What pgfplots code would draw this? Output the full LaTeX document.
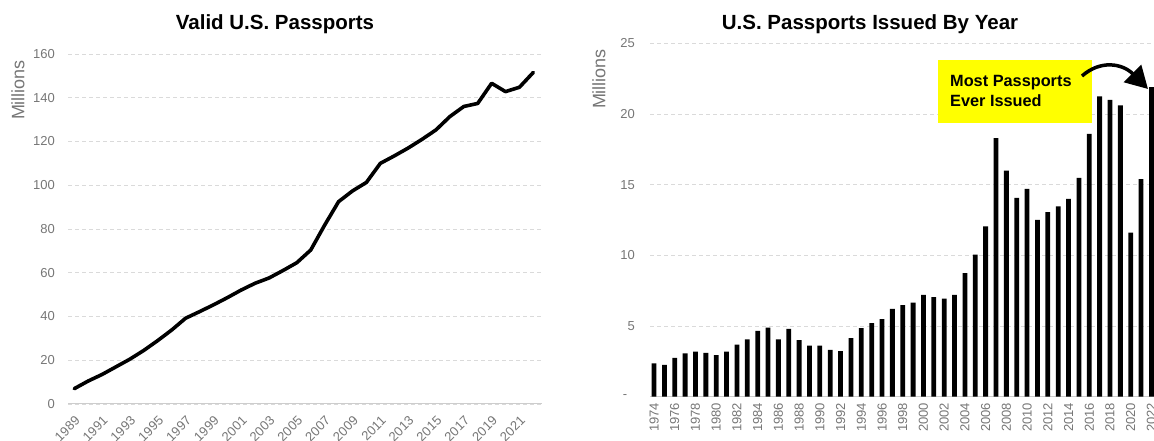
\documentclass[border=0pt]{standalone}
\usepackage{fontspec}
\setmainfont{Liberation Sans}
\usepackage{pgfplots}
\pgfplotsset{compat=1.18}
\usetikzlibrary{arrows.meta}
\definecolor{tickgray}{RGB}{118,118,118}
\definecolor{gridgray}{RGB}{218,218,218}
\definecolor{basegray}{RGB}{205,205,205}
\definecolor{annoyellow}{RGB}{255,255,0}
\pgfplotsset{
  mystyle/.style={
    scale only axis,
    axis x line=bottom, axis y line=left,
    x axis line style={basegray, line width=1pt, -},
    y axis line style={draw=none},
    major tick length=0pt,
    ymajorgrids,
    grid style={gridgray, dash pattern=on 4pt off 3pt, line width=0.9pt},
    tick label style={font=\fontsize{13}{13}\selectfont, text=tickgray},
    /pgf/number format/1000 sep={},
    /pgf/number format/assume math mode=true,
  }
}
\begin{document}
\begin{tikzpicture}[x=1pt,y=1pt]
\path[use as bounding box] (0pt,0pt) rectangle (1154pt,441pt);
\begin{axis}[mystyle,
  at={(68pt,37pt)}, anchor=south west,
  width=473.7pt, height=350pt,
  xmin=1988.55, xmax=2022.6, ymin=0, ymax=160,
  ytick={0,20,...,160},
  xtick={1989,1991,...,2021},
  xticklabel style={yshift=-11pt, xshift=0pt, rotate=45, anchor=north east, inner sep=0pt},
  yticklabel style={inner sep=0pt, xshift=-13pt},
]
\addplot[black, line width=3.6pt, line join=round, line cap=round] coordinates {
(1989,7) (1990,10.5) (1991,13.5) (1992,17) (1993,20.5) (1994,24.5) (1995,29)
(1996,33.8) (1997,39.2) (1998,42.2) (1999,45.3) (2000,48.6) (2001,52.1)
(2002,55.2) (2003,57.6) (2004,61) (2005,64.6) (2006,70.4) (2007,81.8)
(2008,92.5) (2009,97.4) (2010,101.3) (2011,110) (2012,113.4) (2013,117)
(2014,121) (2015,125.3) (2016,131.4) (2017,136) (2018,137.4) (2019,146.6)
(2020,142.8) (2021,144.8) (2022,151.6)
};
\end{axis}
\begin{axis}[mystyle,
  at={(650pt,44.3pt)}, anchor=south west,
  width=511.8pt, height=353.4pt,
  xmin=1973.61, xmax=2023, ymin=0, ymax=25,
  ytick={0,5,...,25},
  yticklabels={\makebox[12pt][l]{-},5,10,15,20,25},
  xtick={1974,1976,...,2022},
  xticklabel style={yshift=-6pt, rotate=90, anchor=east, inner sep=0pt},
  yticklabel style={inner sep=0pt, xshift=-15pt},
]
\addplot[ybar, bar width=4.8pt, fill=black, draw=none] coordinates {
(1974,2.35) (1975,2.26) (1976,2.75) (1977,3.06) (1978,3.18) (1979,3.1)
(1980,2.94) (1981,3.18) (1982,3.69) (1983,4.05) (1984,4.66) (1985,4.89)
(1986,4.05) (1987,4.8) (1988,4.0) (1989,3.62) (1990,3.62) (1991,3.32)
(1992,3.22) (1993,4.14) (1994,4.85) (1995,5.2) (1996,5.48) (1997,6.21)
(1998,6.47) (1999,6.66) (2000,7.2) (2001,7.04) (2002,6.94) (2003,7.2)
(2004,8.75) (2005,10.05) (2006,12.05) (2007,18.3) (2008,16.0) (2009,14.07)
(2010,14.7) (2011,12.5) (2012,13.06) (2013,13.46) (2014,14.0) (2015,15.48)
(2016,18.6) (2017,21.25) (2018,21.0) (2019,20.6) (2020,11.6) (2021,15.4)
(2022,21.9)
};
\end{axis}
% titles and labels
\node[anchor=base, font=\bfseries\fontsize{20.5}{24}\selectfont] at (275pt,411pt) {Valid U.S. Passports};
\node[anchor=base, font=\bfseries\fontsize{20.5}{24}\selectfont] at (870pt,411pt) {U.S. Passports Issued By Year};
\node[rotate=90, text=tickgray, font=\fontsize{18}{18}\selectfont] at (18pt,351pt) {Millions};
\node[rotate=90, text=tickgray, font=\fontsize{18}{18}\selectfont] at (599pt,362pt) {Millions};
% annotation
\fill[annoyellow] (938pt,318.3pt) rectangle (1092pt,381pt);
\node[anchor=west, font=\bfseries\fontsize{16.3}{20}\selectfont, align=left, inner sep=0pt] at (950pt,350pt) {Most Passports\\[0pt]Ever Issued};
\draw[line width=3.5pt, -{Triangle[length=22pt, width=24pt]}] (1082pt,365pt) .. controls (1100pt,381pt) and (1122pt,378pt) .. (1148pt,352pt);
\end{tikzpicture}
\end{document}
